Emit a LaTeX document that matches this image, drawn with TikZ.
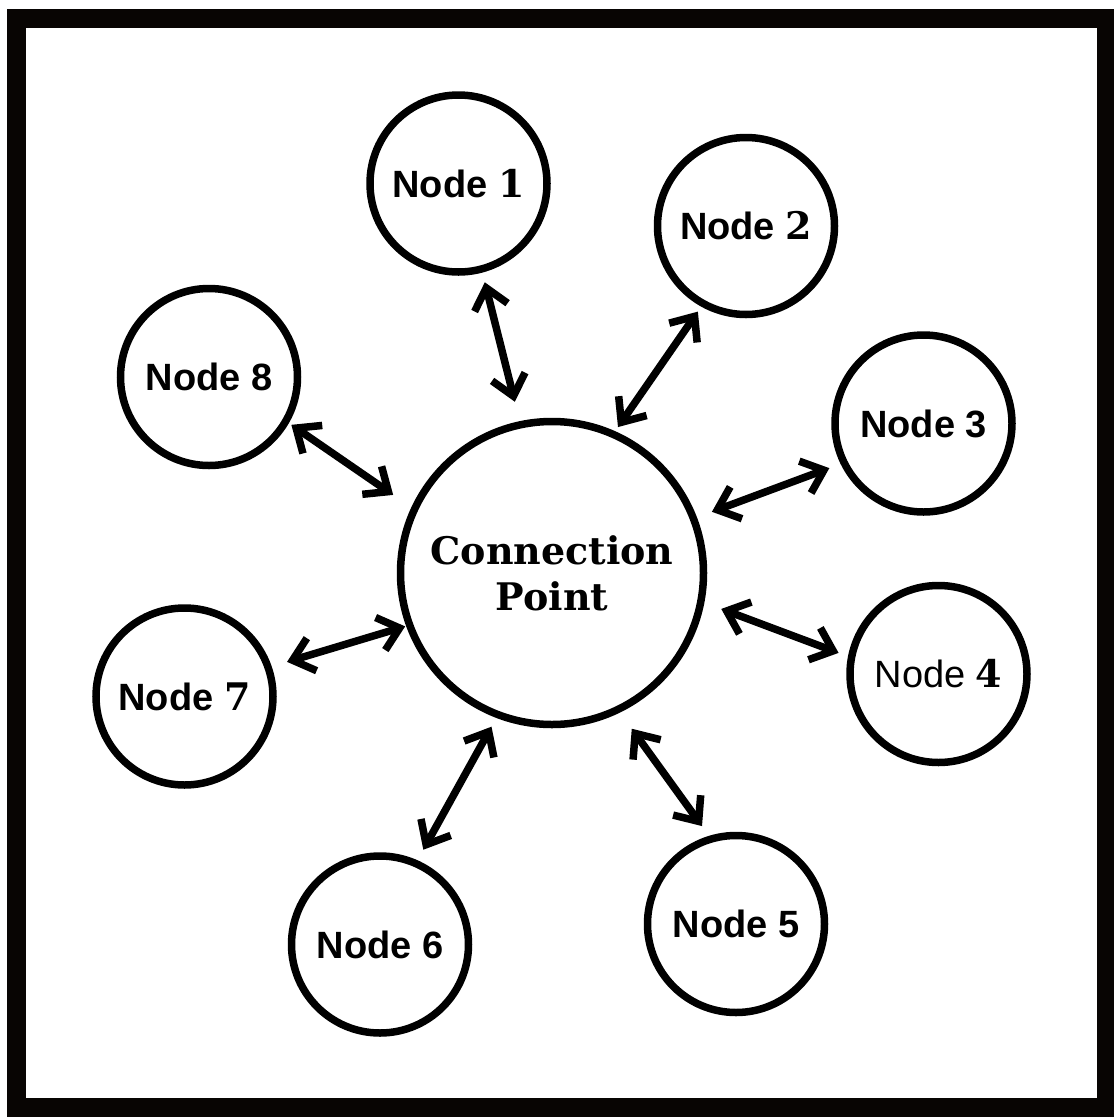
\documentclass[tikz,border=0pt]{standalone}
\usepackage{fontspec}
\setmainfont{Liberation Sans}
\newfontfamily\slabfont{DejaVu Serif}
\usetikzlibrary{arrows.meta}

\newcommand{\num}[1]{{\slabfont\bfseries #1}}

\begin{document}
\begin{tikzpicture}[x = 1pt, y = -1pt, % pixel units, y grows downward
                > = {Straight Barb[length = 20pt, width = 34pt, sharp]}, % arrow head style
                semithick % line style
            ]

            \useasboundingbox (0,0) rectangle (1114,1117);
            \draw[line width = 19pt, black!96!brown] (16.5,18.5) rectangle (1106.5,1107.5);

            \tikzstyle{every node}=[draw = black, circle, line width = 7.5pt,
            inner sep = 0pt, align = center,
            font = \fontsize{38}{46}\selectfont\bfseries]
            \tikzstyle{peer}=[minimum size = 177pt]
            \tikzstyle{hub}=[minimum size = 303pt]
            \tikzstyle{link}=[<->, line width = 7.5pt]

            \node[hub] (cp) at (552,573) {\slabfont Connection\\\slabfont Point};
            \node[peer] (n1) at (458.5,183.5) {Node \num{1}};
            \node[peer] (n2) at (746,226) {Node \num{2}};
            \node[peer] (n3) at (923.5,423.5) {Node 3};
            \node[peer] (n4) at (938.5,674) {\mdseries Node \num{4}};
            \node[peer] (n5) at (736,924) {Node 5};
            \node[peer] (n6) at (380,944.5) {Node 6};
            \node[peer] (n7) at (184.5,696.5) {Node \num{7}};
            \node[peer] (n8) at (209,377) {Node 8};

            \draw[link, shorten < = 10pt, shorten > = 20pt] (n1.-75) -- (cp.102);
            \draw[link, shorten < = 6pt, shorten > = 5pt] (n2.-119) -- (cp.66);
            \draw[link, shorten < = 12pt, shorten > = 16pt] (n3.-154) -- (cp.21);
            \draw[link, shorten < = 10pt, shorten > = 18pt] (n4.169) -- (cp.-11);
            \draw[link, shorten < = 12pt, shorten > = 20pt] (n5.107) -- (cp.-64);
            \draw[link, shorten < = 12pt, shorten > = 10pt] (n6.66) -- (cp.-111);
            \draw[link, shorten < = 16pt, shorten > = 1pt] (n7.19) -- (cp.-160);
            \draw[link, shorten < = 3pt, shorten > = 22pt] (n8.-30) -- (cp.155);
        \end{tikzpicture}
\end{document}
